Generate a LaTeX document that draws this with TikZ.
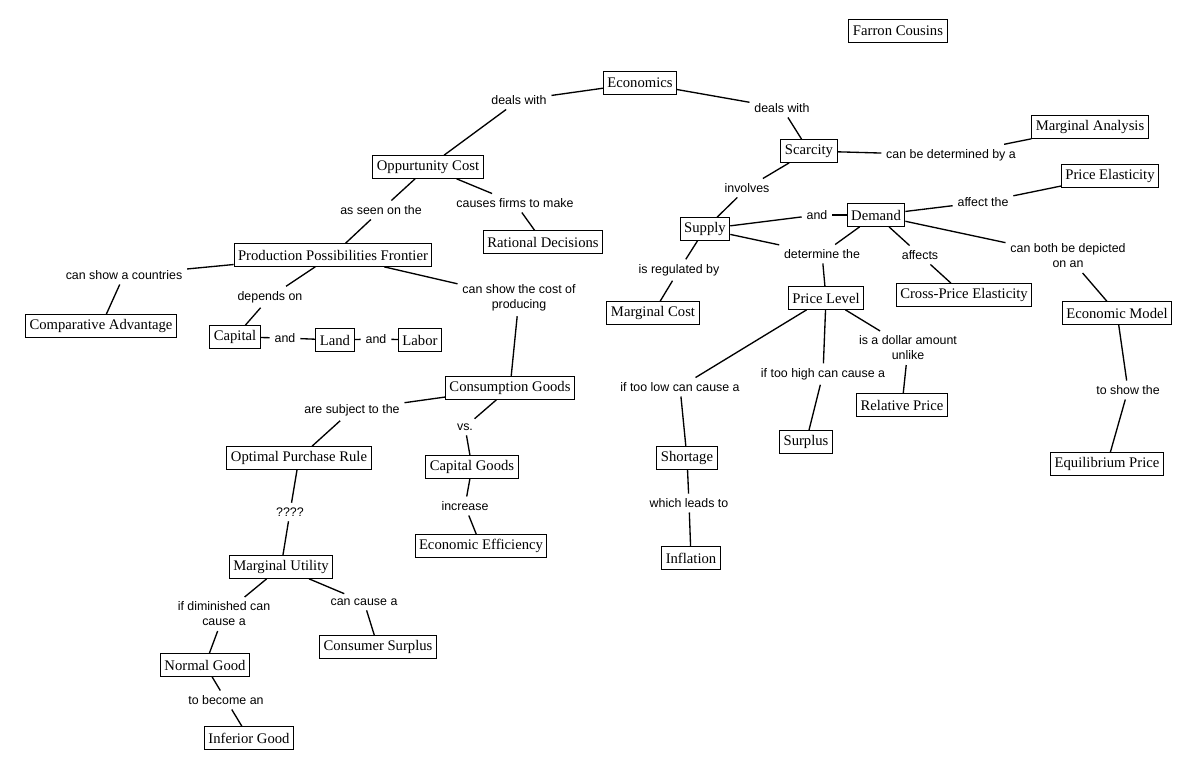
\documentclass[tikz,border=0pt]{standalone}
\usepackage{fontspec}
\setmainfont{Liberation Serif}
\newfontfamily\linkfont{Liberation Sans}
\usepackage{tikz}

\begin{document}
\begin{tikzpicture}[x=0.75pt, y=-0.75pt,
    concept/.style={draw, line width=0.75pt, font=\fontsize{11}{12}\selectfont,
        inner xsep=3pt, inner ysep=0pt, minimum height=17pt},
    link/.style={font=\linkfont\fontsize{9.3}{11.3}\selectfont, inner sep=3.5pt, align=center},
    conn/.style={line width=1pt}]

    \useasboundingbox (0,0) rectangle (1195,769);

    % draw nodes
    \foreach \x/\y/\t/\s in {898/31/farron/Farron Cousins, 640/83/econ/Economics,
        428/167/opp/Oppurtunity Cost, 543/242/rat/Rational Decisions,
        333/255/ppf/Production Possibilities Frontier, 101/326/comp/Comparative Advantage,
        235/337/cap/Capital, 335/340/land/Land, 420/340/labor/Labor,
        510/388/cons/Consumption Goods, 299/458/opr/Optimal Purchase Rule,
        472/467/capg/Capital Goods, 481/546/eff/Economic Efficiency,
        281/567/mu/Marginal Utility, 378/647/csur/Consumer Surplus,
        205/665/norm/Normal Good, 249/738/inf/Inferior Good,
        809/151/scar/Scarcity, 1090/127/ma/Marginal Analysis, 1110/176/pe/Price Elasticity,
        705/229/sup/Supply, 876/215/dem/Demand, 653/313/mc/Marginal Cost,
        826/298/pl/Price Level, 964/295/cpe/Cross-Price Elasticity,
        1117/313/em/Economic Model, 902/405/rp/Relative Price, 806/442/surp/Surplus,
        687/458/short/Shortage, 691/558/infl/Inflation, 1107/464/eqp/Equilibrium Price}
        \node [concept]
            (c\t) at (\x, \y) {\s};

    % draw link labels
    \foreach \x/\y/\t/\s in {519/100/dw1/deals with, 782/108/dw2/deals with,
        381/210/seen/as seen on the, 515/203/causes/causes firms to make,
        124/275/show/can show a countries, 270/297/dep/depends on,
        519/298/cost/{can show the cost of\\producing},
        285/338/and1/and, 376/339/and2/and,
        352/410/subj/are subject to the, 465/427/vs/vs., 290/512/q/????,
        465/506/incr/increase, 224/614/dim/{if diminished can\\cause a},
        364/602/cc/can cause a, 226/700/bec/to become an,
        951/155/det/can be determined by a, 747/188/inv/involves, 817/215/and3/and,
        983/202/aff/affect the, 679/270/reg/is regulated by, 822/254/detp/determine the,
        920/255/affs/affects, 1068/256/both/{can both be depicted\\on an},
        908/348/dol/{is a dollar amount\\unlike}, 680/387/low/if too low can cause a,
        823/374/high/if too high can cause a, 1128/390/toshow/to show the,
        689/503/leads/which leads to}
        \node [link]
            (l\t) at (\x, \y) {\s};

    % draw edges
    \foreach \i/\j in {econ/dw1, econ/dw2, opp/seen, opp/causes, ppf/show, ppf/dep,
        ppf/cost, cap/and1, land/and2, cons/subj, cons/vs, opr/q, capg/incr,
        mu/dim, mu/cc, norm/bec, scar/det, scar/inv, sup/and3, dem/aff, sup/reg,
        sup/detp, dem/detp, dem/affs, dem/both, pl/low, pl/high, pl/dol,
        short/leads, em/toshow}
        \draw [conn] (c\i) -- (l\j);
    \foreach \i/\j in {dw1/opp, dw2/scar, seen/ppf, causes/rat, show/comp, dep/cap,
        cost/cons, and1/land, and2/labor, subj/opr, vs/capg, q/mu, incr/eff,
        dim/norm, cc/csur, bec/inf, det/ma, inv/sup, and3/dem, aff/pe, reg/mc,
        detp/pl, affs/cpe, both/em, low/short, high/surp, dol/rp, leads/infl,
        toshow/eqp}
        \draw [conn] (l\i) -- (c\j);

\end{tikzpicture}
\end{document}
